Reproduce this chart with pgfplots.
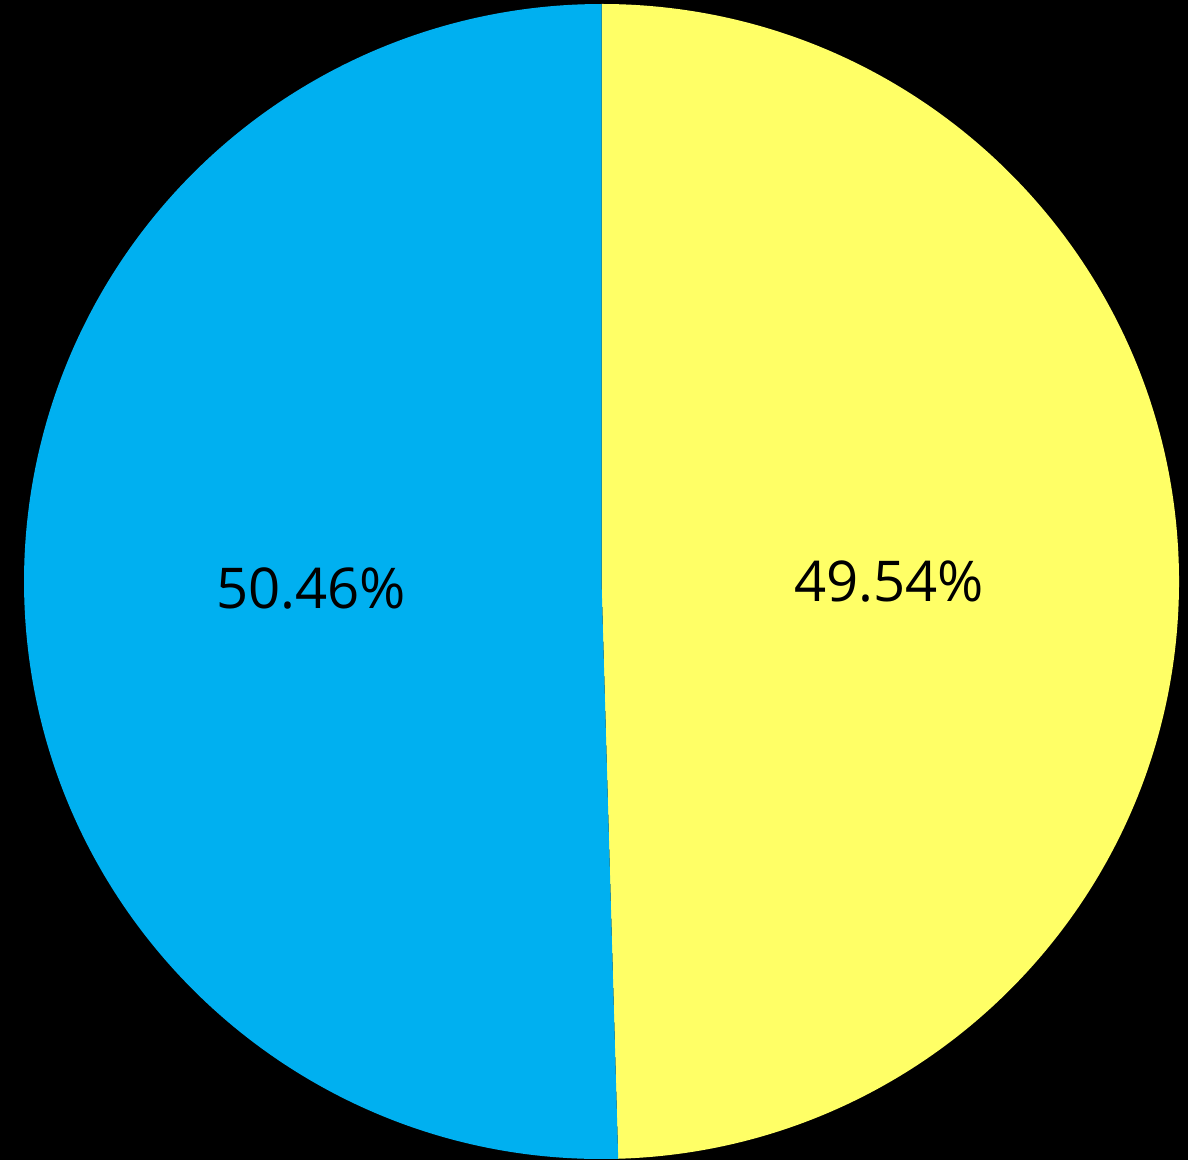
\documentclass[border=0pt]{standalone}
\usepackage{pgfplots}
\pgfplotsset{compat=1.18}
\usepackage{fontspec}
\setmainfont{Open Sans}
\definecolor{pieblue}{HTML}{00B0F0}
\definecolor{pieyellow}{HTML}{FFFF66}
\begin{document}
\begin{tikzpicture}
% slice values (percent), clockwise from 12 o'clock
\def\valA{49.54}% yellow
\def\valB{50.46}% blue
\begin{axis}[
  width=11.88cm, height=11.6cm, scale only axis,
  xmin=0, xmax=1188, ymin=0, ymax=1160,
  hide axis, clip=false,
]
\fill[black] (axis cs:0,0) rectangle (axis cs:1188,1160);
\pgfmathsetmacro{\endA}{90-3.6*\valA}
\pgfmathsetmacro{\endB}{\endA-3.6*\valB}
\fill[pieyellow] (axis cs:601.5,578.5) -- ++(90:5.775cm) arc[start angle=90, end angle=\endA, radius=5.775cm] -- cycle;
\fill[pieblue] (axis cs:601.5,578.5) -- ++(\endA:5.775cm) arc[start angle=\endA, end angle=\endB, radius=5.775cm] -- cycle;
\node[font=\fontsize{16}{19}\selectfont, text=black] at (axis cs:889,578) {\valA\%};
\node[font=\fontsize{16}{19}\selectfont, text=black] at (axis cs:311,572) {\valB\%};
\end{axis}
\end{tikzpicture}
\end{document}
